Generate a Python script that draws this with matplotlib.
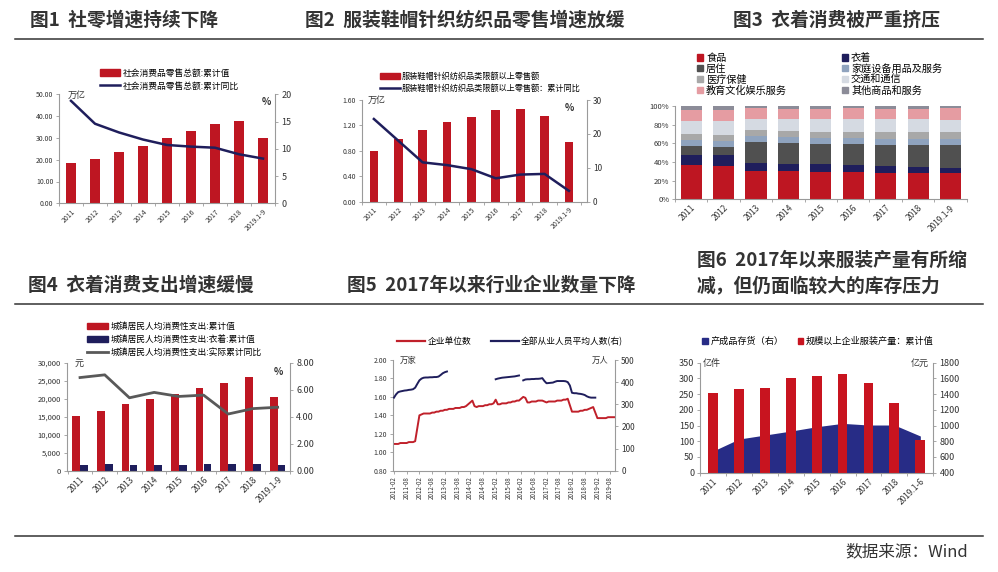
import numpy as np
import pandas as pd
import matplotlib
matplotlib.use('Agg')
import matplotlib.pyplot as plt
from matplotlib.lines import Line2D
from matplotlib.patches import Patch
from matplotlib.ticker import FormatStrFormatter, FuncFormatter

plt.rcParams['font.family'] = ['Noto Sans CJK SC', 'DejaVu Sans']
plt.rcParams['axes.unicode_minus'] = False

# ---- data ----
years = ['2011', '2012', '2013', '2014', '2015', '2016', '2017', '2018', '2019.1-9']
years_h1 = ['2011', '2012', '2013', '2014', '2015', '2016', '2017', '2018', '2019.1-6']

# fig1: 社会消费品零售总额
p1_retail = [18.3, 20.5, 23.4, 26.3, 30.1, 33.3, 36.5, 37.9, 29.8]
p1_yoy = [18.8, 14.6, 13.0, 11.7, 10.7, 10.4, 10.2, 9.0, 8.2]

# fig2: 服装鞋帽针织纺织品类
p2_retail = [0.80, 0.98, 1.13, 1.25, 1.34, 1.44, 1.46, 1.35, 0.94]
p2_yoy = [24.4, 18.0, 11.6, 10.8, 9.6, 6.9, 8.0, 8.2, 3.2]

# fig3: 消费结构 (%)
p3_names = ['食品', '衣着', '居住', '家庭设备用品及服务', '医疗保健', '交通和通信',
            '教育文化娱乐服务', '其他商品和服务']
p3_food = [36.3, 36.2, 30.1, 30.0, 29.7, 29.3, 28.6, 27.7, 27.8]
p3_cloth = [11.0, 10.9, 8.4, 8.1, 8.0, 7.6, 7.2, 6.9, 6.2]
p3_house = [9.3, 8.9, 23.3, 22.5, 22.1, 22.2, 22.8, 24.0, 24.2]
p3_equip = [6.7, 6.7, 6.2, 6.2, 6.1, 6.2, 6.2, 6.2, 6.0]
p3_medic = [6.4, 6.4, 6.3, 6.5, 6.7, 7.1, 7.3, 7.8, 8.1]
p3_trans = [14.2, 14.7, 11.8, 12.8, 13.5, 13.8, 13.6, 13.3, 13.2]
p3_edu = [12.2, 12.2, 11.4, 11.2, 11.1, 11.4, 11.6, 11.4, 11.9]
p3_other = [3.9, 4.0, 2.5, 2.7, 2.8, 2.4, 2.7, 2.7, 2.6]

# fig4: 城镇居民人均消费性支出
p4_total = [15161, 16674, 18488, 19968, 21392, 23079, 24445, 26112, 20379]
p4_cloth = [1675, 1823, 1554, 1627, 1701, 1739, 1758, 1808, 1466]
p4_yoy = [6.9, 7.1, 5.4, 5.8, 5.5, 5.6, 4.2, 4.6, 4.7]

# fig5: 月度, 2011-02 起
months = list(pd.period_range('2011-02', periods=105, freq='M').strftime('%Y-%m'))
p5_firms = [1.09, 1.09, 1.09, 1.10, 1.10, 1.10, 1.10, 1.11, 1.11, 1.11, 1.12,
            1.26, 1.40, 1.41, 1.42, 1.42, 1.42, 1.42, 1.43, 1.43, 1.44, 1.44, 1.45,
            1.45, 1.46, 1.46, 1.47, 1.47, 1.47, 1.48, 1.48, 1.48, 1.49, 1.49, 1.50,
            1.52, 1.54, 1.56, 1.50, 1.49, 1.50, 1.50, 1.50, 1.51, 1.51, 1.52, 1.52,
            1.53, 1.57, 1.52, 1.52, 1.53, 1.53, 1.53, 1.54, 1.54, 1.55, 1.55, 1.56,
            1.56, 1.58, 1.60, 1.59, 1.54, 1.54, 1.55, 1.55, 1.55, 1.56, 1.56, 1.56,
            1.55, 1.54, 1.55, 1.55, 1.55, 1.55, 1.56, 1.56, 1.56, 1.57, 1.57, 1.58,
            1.51, 1.44, 1.44, 1.44, 1.44, 1.45, 1.45, 1.46, 1.46, 1.47, 1.48, 1.49,
            1.43, 1.37, 1.37, 1.37, 1.37, 1.37, 1.38, 1.38, 1.38, 1.38]
nan = float('nan')
p5_staff = ([330, 345, 355, 358, 360, 362, 363, 365, 366, 368, 375,
             392, 408, 416, 420, 421, 421, 422, 422, 423, 423, 425, 432,
             440, 445, 448]
            + [nan] * 22
            + [413, 416, 418, 420, 421, 422, 423, 424, 425, 426, 428, 430]
            + [nan]
            + [408, 412, 413, 413, 414, 414, 415, 415, 416, 418,
               405, 395, 396, 397, 398, 402, 405, 405, 405, 405, 404, 400,
               385, 352, 350, 350, 348, 347, 345, 342, 336, 332, 330, 330, 330]
            + [nan] * 9)

# fig6: 服装产量 / 产成品存货
p6_output = [254.5, 267, 270, 301, 308.6, 315, 286, 222.7, 103]
p6_stock = [675, 828, 879, 930, 985, 1028, 1007, 1007, 867]

# ---- style ----
W, H = 998, 572
RED = '#BE1622'
NAVY = '#1F1E5C'
AREA = '#272C86'
AXC = '#9a9a9a'
TXT = '#333333'
p3_colors = ['#BE1622', '#1F1E5C', '#505050', '#8FA3BE', '#A8A8A8', '#D5DAE2',
             '#E59CA2', '#8C8C98']

fig = plt.figure(figsize=(W / 100, H / 100), dpi=100)


def box(l, t, r, b):
    return fig.add_axes([l / W, 1 - b / H, (r - l) / W, (b - t) / H])


def ftext(x, y, s, **kw):
    fig.text(x / W, 1 - y / H, s, **kw)


def hline(y, x0=15, x1=983):
    fig.add_artist(Line2D([x0 / W, x1 / W], [1 - y / H, 1 - y / H], color=TXT, lw=1.1))


def base(ax, size=5.5):
    for s in ax.spines.values():
        s.set_visible(False)
    for s in ('left', 'bottom'):
        ax.spines[s].set_visible(True)
        ax.spines[s].set_color(AXC)
        ax.spines[s].set_linewidth(0.8)
    ax.tick_params(color=AXC, labelcolor=TXT, length=2.5, width=0.6, labelsize=size, pad=1.5)
    ax.patch.set_alpha(0)


def twin(ax, size=6):
    axr = ax.twinx()
    for s in axr.spines.values():
        s.set_visible(False)
    axr.spines['right'].set_visible(True)
    axr.spines['right'].set_color(AXC)
    axr.spines['right'].set_linewidth(0.8)
    axr.tick_params(color=AXC, labelcolor=TXT, length=2.5, width=0.6, labelsize=size, pad=2)
    return axr


def cat_x(ax, labels, size=5.5):
    x = np.arange(len(labels))
    ax.set_xticks(x)
    ax.set_xticklabels(labels, rotation=45, ha='right', va='top',
                       rotation_mode='anchor', fontsize=size)
    ax.tick_params(axis='x', length=0, pad=3)
    ax.set_xticks(np.arange(len(labels) + 1) - 0.5, minor=True)
    ax.tick_params(axis='x', which='minor', length=2.5, color=AXC)


def legend_at(handles, labels, x, y, size, **kw):
    fig.legend(handles, labels, loc='upper left', bbox_to_anchor=(x / W, 1 - y / H),
               frameon=False, fontsize=size, borderpad=0, borderaxespad=0,
               handletextpad=0.3, **kw)


# titles and rules
tkw = dict(fontsize=13.5, fontweight='bold', color=TXT, va='center', ha='left')
ftext(30, 20, '图1  社零增速持续下降', **tkw)
ftext(305, 20, '图2  服装鞋帽针织纺织品零售增速放缓', **tkw)
ftext(733, 20, '图3  衣着消费被严重挤压', **tkw)
ftext(28, 285, '图4  衣着消费支出增速缓慢', **tkw)
ftext(347, 285, '图5  2017年以来行业企业数量下降', **tkw)
ftext(697, 260, '图6  2017年以来服装产量有所缩', **tkw)
ftext(697, 287, '减，但仍面临较大的库存压力', **tkw)
hline(39)
hline(304)
hline(536)
ftext(968, 552, '数据来源：Wind', fontsize=12, color=TXT, ha='right', va='center')

x = np.arange(9)

# ---- fig1 ----
ax1 = box(59, 94.3, 275, 203.3)
base(ax1, 5)
ax1.bar(x, p1_retail, width=0.4, color=RED)
ax1.set_ylim(0, 50)
ax1.set_yticks(np.arange(0, 51, 10))
ax1.yaxis.set_major_formatter(FormatStrFormatter('%.2f'))
ax1.set_xlim(-0.5, 8.5)
cat_x(ax1, years, 5)
ax1r = twin(ax1, 6.5)
ax1r.plot(x, p1_yoy, color=NAVY, lw=1.8)
ax1r.set_ylim(0, 20)
ax1r.set_yticks(np.arange(0, 21, 5))
ftext(68, 95, '万亿', fontsize=6.5, color=TXT, va='center')
ftext(262, 102, '%', fontsize=7, fontweight='bold', color=TXT, va='center')
legend_at([Patch(color=RED), Line2D([], [], color=NAVY, lw=1.8)],
          ['社会消费品零售总额:累计值', '社会消费品零售总额:累计同比'],
          100, 68.5, 6.3, handlelength=2.3, labelspacing=0.45)

# ---- fig2 ----
ax2 = box(361.7, 100, 586.7, 201.7)
base(ax2, 5)
ax2.bar(x, p2_retail, width=0.36, color=RED)
ax2.set_ylim(0, 1.6)
ax2.set_yticks(np.arange(0, 1.61, 0.4))
ax2.yaxis.set_major_formatter(FormatStrFormatter('%.2f'))
ax2.set_xlim(-0.48, 8.73)
cat_x(ax2, years, 5)
ax2r = twin(ax2, 6)
ax2r.plot(x, p2_yoy, color=NAVY, lw=1.8)
ax2r.set_ylim(0, 30)
ax2r.set_yticks(np.arange(0, 31, 10))
ftext(368, 100, '万亿', fontsize=6.5, color=TXT, va='center')
ftext(565, 108, '%', fontsize=7, fontweight='bold', color=TXT, va='center')
legend_at([Patch(color=RED), Line2D([], [], color=NAVY, lw=1.8)],
          ['服装鞋帽针织纺织品类限额以上零售额', '服装鞋帽针织纺织品类限额以上零售额：累计同比'],
          380, 72, 5.9, handlelength=2.4, labelspacing=0.3)

# ---- fig3 ----
ax3 = box(675, 106, 966.7, 199.3)
base(ax3, 5.5)
p3_series = [p3_food, p3_cloth, p3_house, p3_equip, p3_medic, p3_trans, p3_edu, p3_other]
bottom = np.zeros(9)
handles3 = []
for name, vals, col in zip(p3_names, p3_series, p3_colors):
    ax3.bar(x, vals, bottom=bottom, width=0.65, color=col, label=name)
    bottom += np.array(vals)
    handles3.append(Patch(color=col))
ax3.set_ylim(0, 100)
ax3.set_yticks(np.arange(0, 101, 20))
ax3.yaxis.set_major_formatter(FuncFormatter(lambda v, p: f'{v:.0f}%'))
ax3.set_xlim(-0.5, 8.5)
cat_x(ax3, years, 6)
# legend fills column by column: reorder so it reads row by row
order = [0, 2, 4, 6, 1, 3, 5, 7]
legend_at([handles3[i] for i in order], [p3_names[i] for i in order], 697, 53, 7.3,
          ncol=2, handlelength=0.6, handleheight=0.6, labelspacing=0.08, columnspacing=5.4)

# ---- fig4 ----
ax4 = box(66.7, 362.7, 290, 470.7)
base(ax4, 5.5)
ax4.bar(x - 0.16, p4_total, width=0.31, color=RED)
ax4.bar(x + 0.16, p4_cloth, width=0.31, color=NAVY)
ax4.set_ylim(0, 30000)
ax4.set_yticks(np.arange(0, 30001, 5000))
ax4.yaxis.set_major_formatter(FuncFormatter(lambda v, p: f'{v:,.0f}'))
ax4.set_xlim(-0.54, 8.48)
cat_x(ax4, years, 6)
ax4r = twin(ax4, 6.5)
ax4r.plot(x, p4_yoy, color='#595959', lw=2)
ax4r.set_ylim(0, 8)
ax4r.set_yticks(np.arange(0, 8.01, 2))
ax4r.yaxis.set_major_formatter(FormatStrFormatter('%.2f'))
ftext(75, 364, '元', fontsize=6.5, color=TXT, va='center')
ftext(274, 372, '%', fontsize=7, fontweight='bold', color=TXT, va='center')
legend_at([Patch(color=RED), Patch(color=NAVY), Line2D([], [], color='#595959', lw=2)],
          ['城镇居民人均消费性支出:累计值', '城镇居民人均消费性支出:衣着:累计值',
           '城镇居民人均消费性支出:实际累计同比'],
          87, 322, 6.3, handlelength=2.4, labelspacing=0.45)

# ---- fig5 ----
ax5 = box(392.7, 360, 615, 470.7)
base(ax5, 5)
idx = np.arange(len(months))
ax5.plot(idx, p5_firms, color='#C0202A', lw=1.4)
ax5.set_ylim(0.8, 2.0)
ax5.set_yticks(np.arange(0.8, 2.01, 0.2))
ax5.yaxis.set_major_formatter(FormatStrFormatter('%.2f'))
ax5.set_xlim(-0.6, 104.3)
ax5.set_xticks(idx[::6])
ax5.set_xticklabels(months[::6], rotation=90, fontsize=4.5, ha='center', va='top')
ax5r = twin(ax5, 6)
ax5r.plot(idx, p5_staff, color=NAVY, lw=1.4)
ax5r.set_ylim(0, 500)
ax5r.set_yticks(np.arange(0, 501, 100))
ftext(400, 360, '万家', fontsize=6, color=TXT, va='center')
ftext(592, 360, '万人', fontsize=6, color=TXT, va='center')
legend_at([Line2D([], [], color='#C0202A', lw=1.6), Line2D([], [], color=NAVY, lw=1.6)],
          ['企业单位数', '全部从业人员平均人数(右)'],
          397, 336.5, 6.3, ncol=2, handlelength=3.2, columnspacing=2.2)

# ---- fig6 ----
ax6 = box(700, 362.7, 933.3, 472.7)
base(ax6, 6.5)
ax6r = twin(ax6, 6.5)
ax6r.fill_between(x, 400, p6_stock, color=AREA, lw=0)
ax6r.set_ylim(400, 1800)
ax6r.set_yticks(np.arange(400, 1801, 200))
ax6.bar(x, p6_output, width=0.38, color='#C8141F')
ax6.set_zorder(ax6r.get_zorder() + 1)
ax6.set_ylim(0, 350)
ax6.set_yticks(np.arange(0, 351, 50))
ax6.set_xlim(-0.38, 8.44)
cat_x(ax6, years_h1, 6)
ftext(703, 363, '亿件', fontsize=6.5, color=TXT, va='center')
ftext(911, 363, '亿元', fontsize=6.5, color=TXT, va='center')
legend_at([Patch(color=AREA), Patch(color='#C8141F')],
          ['产成品存货（右）', '规模以上企业服装产量：累计值'],
          702, 337, 6.6, ncol=2, handlelength=0.6, handleheight=0.6, columnspacing=1.6)

fig.savefig('out.png', dpi=100, facecolor='white')
